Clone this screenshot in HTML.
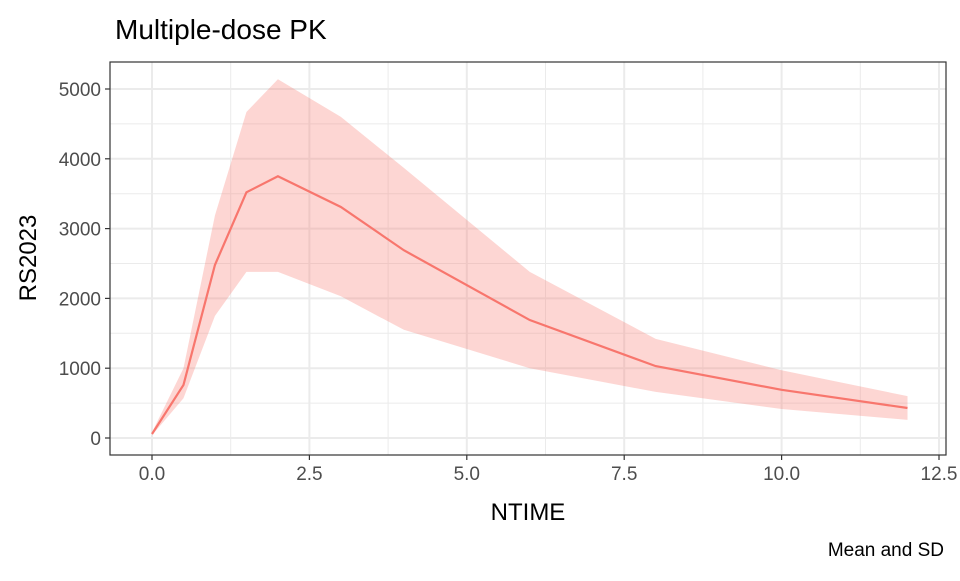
<!DOCTYPE html>
<html><head><meta charset="utf-8"><style>
body{margin:0;background:#fff;font-family:"Liberation Sans",sans-serif}
</style></head><body>
<svg id="chart" width="960" height="576" xmlns="http://www.w3.org/2000/svg">
<text x="115" y="39" font-size="28" fill="#000">Multiple-dose PK</text>
<g id="grid"></g><g id="band"></g><g id="line"></g>
<rect x="110" y="62" width="836" height="393" fill="none" stroke="#333" stroke-width="1.2"/>
<g id="axes"></g>
<text x="528" y="520" font-size="24" text-anchor="middle" fill="#000">NTIME</text>
<text transform="translate(36,258) rotate(-90)" font-size="24" text-anchor="middle" fill="#000">RS2023</text>
<text x="944" y="556" font-size="19" text-anchor="end" fill="#000">Mean and SD</text>
</svg>
<script>
const times=[0,0.5,1,1.5,2,3,4,6,8,10,12];
const meanVals=[57,760,2480,3520,3750,3310,2690,1690,1030,690,430];
const upperVals=[80,1000,3190,4670,5140,4600,3870,2380,1420,970,600];
const lowerVals=[40,570,1750,2380,2380,2030,1550,1000,660,415,260];
const xTicks=[0,2.5,5,7.5,10,12.5];
const xTickLabels=["0.0","2.5","5.0","7.5","10.0","12.5"];
const yTicks=[0,1000,2000,3000,4000,5000];
const yTickLabels=["0","1000","2000","3000","4000","5000"];
const NS="http://www.w3.org/2000/svg";
const X=v=>152+v*62.96, Y=v=>438-v*0.0698;
function mk(t,a,p){const e=document.createElementNS(NS,t);for(const k in a)e.setAttribute(k,a[k]);p.appendChild(e);return e;}
const grid=document.getElementById('grid'),axes=document.getElementById('axes');
for(let i=0;i<xTicks.length-1;i++){const m=(xTicks[i]+xTicks[i+1])/2;
const l=mk('line',{x1:X(m),x2:X(m),y1:62,y2:455,stroke:'#ebebeb','stroke-width':1},grid);
}
for(let i=0;i<yTicks.length;i++){const m=yTicks[i]+500;
if(Y(m)<62)continue;
const l=mk('line',{x1:110,x2:946,y1:Y(m),y2:Y(m),stroke:'#ebebeb','stroke-width':1},grid);
}
xTicks.forEach((v,i)=>{const l=mk('line',{x1:X(v),x2:X(v),y1:62,y2:455,stroke:'#ebebeb','stroke-width':2},grid);

const t=mk('line',{x1:X(v),x2:X(v),y1:455,y2:460,stroke:'#333','stroke-width':1.2},axes);

const tx=mk('text',{x:X(v),y:480,'font-size':19,'text-anchor':'middle',fill:'#4d4d4d'},axes);tx.textContent=xTickLabels[i];
});
yTicks.forEach((v,i)=>{const l=mk('line',{x1:110,x2:946,y1:Y(v),y2:Y(v),stroke:'#ebebeb','stroke-width':2},grid);

const t=mk('line',{x1:105,x2:110,y1:Y(v),y2:Y(v),stroke:'#333','stroke-width':1.2},axes);

const tx=mk('text',{x:101,y:Y(v)+7,'font-size':19,'text-anchor':'end',fill:'#4d4d4d'},axes);tx.textContent=yTickLabels[i];
});
let pts=times.map((t,i)=>X(t)+','+Y(upperVals[i]));
for(let i=times.length-1;i>=0;i--)pts.push(X(times[i])+','+Y(lowerVals[i]));
const band=mk('polygon',{points:pts.join(' '),fill:'#f8766d','fill-opacity':0.3},document.getElementById('band'));

const ln=mk('polyline',{points:times.map((t,i)=>X(t)+','+Y(meanVals[i])).join(' '),fill:'none',stroke:'#f8766d','stroke-width':2.2},document.getElementById('line'));

</script>
</body></html>
